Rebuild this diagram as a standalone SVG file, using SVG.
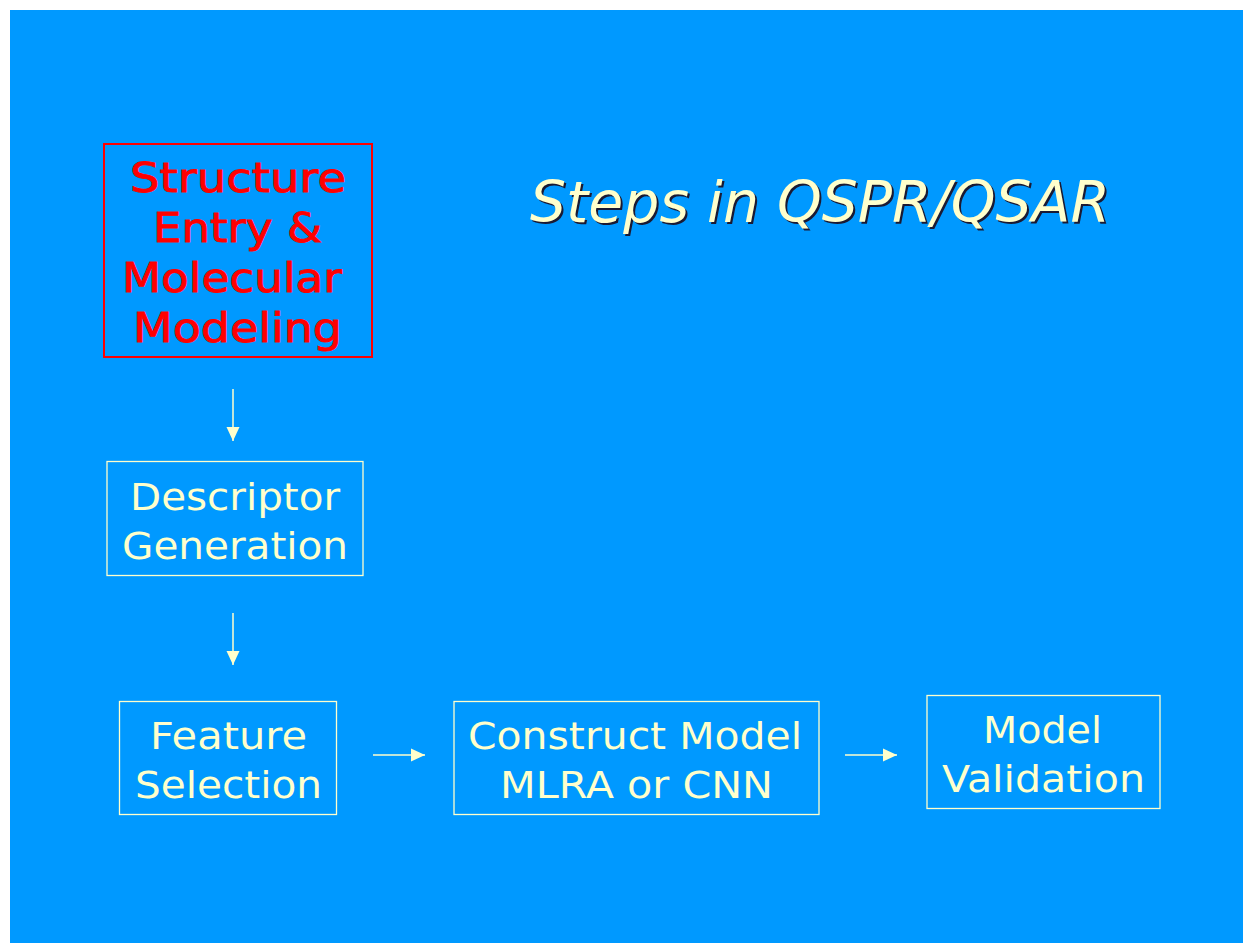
<svg xmlns="http://www.w3.org/2000/svg" width="1243" height="943" viewBox="0 0 1243 943">
  <defs>
    <marker id="head" markerWidth="14" markerHeight="14" refX="14" refY="7" orient="auto" markerUnits="userSpaceOnUse">
      <path d="M0,0.5 L14,7 L0,13.5 Z" fill="#FFFFCC"/>
    </marker>
  </defs>
  <style>
    .box { fill: none; stroke: #FFFFCC; stroke-width: 1.3; }
    .label { font-family: "DejaVu Sans", Verdana, sans-serif; font-size: 38px; fill: #FFFFCC; text-anchor: middle; }
    .first { font-family: "DejaVu Sans", Verdana, sans-serif; font-size: 41px; fill: #FF0000; stroke: #FF0000; stroke-width: 0.9; text-anchor: middle; }
    .title { font-family: "DejaVu Sans", Verdana, sans-serif; font-size: 57px; font-style: italic; text-anchor: middle; }
    .link { stroke: #FFFFCC; stroke-width: 1.5; fill: none; marker-end: url(#head); }
  </style>

  <rect width="1243" height="943" fill="#FFFFFF"/>
  <rect x="10" y="10" width="1233" height="933" fill="#0099FF"/>

  <g id="title">
    <text class="title" x="822" y="224" fill="#1a1a33" textLength="580" lengthAdjust="spacingAndGlyphs">Steps in QSPR/QSAR</text>
    <text class="title" x="820" y="222" fill="#FFFFCC" textLength="580" lengthAdjust="spacingAndGlyphs">Steps in QSPR/QSAR</text>
  </g>

  <g id="structure-entry">
    <rect x="104" y="144" width="268" height="213" fill="none" stroke="#FF0000" stroke-width="2"/>
    <text class="first" x="238" y="192" textLength="216" lengthAdjust="spacingAndGlyphs">Structure</text>
    <text class="first" x="237.5" y="242" textLength="169" lengthAdjust="spacingAndGlyphs">Entry &amp;</text>
    <text class="first" x="232" y="292" textLength="220" lengthAdjust="spacingAndGlyphs">Molecular</text>
    <text class="first" x="237.5" y="342" textLength="209" lengthAdjust="spacingAndGlyphs">Modeling</text>
  </g>

  <g id="descriptor-generation">
    <rect class="box" x="107" y="461.5" width="256" height="114"/>
    <text class="label" x="235" y="510" textLength="210" lengthAdjust="spacingAndGlyphs">Descriptor</text>
    <text class="label" x="235" y="559" textLength="226" lengthAdjust="spacingAndGlyphs">Generation</text>
  </g>

  <g id="feature-selection">
    <rect class="box" x="119.5" y="701.5" width="217" height="113"/>
    <text class="label" x="228.5" y="749" textLength="157" lengthAdjust="spacingAndGlyphs">Feature</text>
    <text class="label" x="228.5" y="798" textLength="187" lengthAdjust="spacingAndGlyphs">Selection</text>
  </g>

  <g id="construct-model">
    <rect class="box" x="454" y="701.5" width="365" height="113"/>
    <text class="label" x="635" y="749" textLength="334" lengthAdjust="spacingAndGlyphs">Construct Model</text>
    <text class="label" x="636.5" y="798" textLength="273" lengthAdjust="spacingAndGlyphs">MLRA or CNN</text>
  </g>

  <g id="model-validation">
    <rect class="box" x="927" y="695.5" width="233" height="113"/>
    <text class="label" x="1042.5" y="743" textLength="119" lengthAdjust="spacingAndGlyphs">Model</text>
    <text class="label" x="1043.5" y="792" textLength="203" lengthAdjust="spacingAndGlyphs">Validation</text>
  </g>

  <g id="connectors">
    <line class="link" x1="233" y1="389" x2="233" y2="441"/>
    <line class="link" x1="233" y1="613" x2="233" y2="665"/>
    <line class="link" x1="373" y1="755" x2="425" y2="755"/>
    <line class="link" x1="845" y1="755" x2="897" y2="755"/>
  </g>
</svg>
